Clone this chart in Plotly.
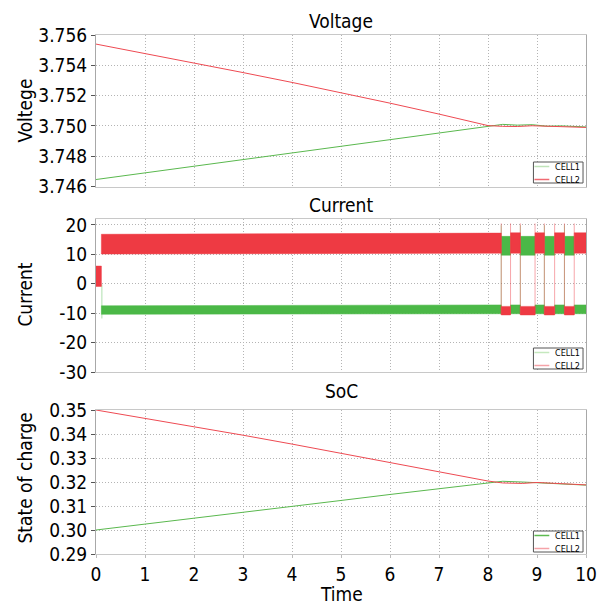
import plotly.graph_objects as go

# ---------------- data ----------------
time_ticks = [0, 1, 2, 3, 4, 5, 6, 7, 8, 9, 10]
current_ticks = [-30, -20, -10, 0, 10, 20]
current_tick_text = ["-30", "-20", "-10", "0", "10", "20"]
series_names = ["CELL1", "CELL2"]

v_time = [0, 1, 2, 3, 4, 5, 6, 7, 8, 8.3, 8.6, 8.9, 9.2, 9.5, 9.8, 10]
v_cell1 = [3.74646, 3.74690, 3.74734, 3.74777, 3.74821, 3.74864, 3.74908, 3.74952,
           3.74996, 3.75010, 3.75005, 3.75008, 3.74998, 3.75000, 3.74996, 3.74993]
v_cell2 = [3.75540, 3.75478, 3.75416, 3.75352, 3.75287, 3.75220, 3.75150, 3.75078,
           3.75002, 3.74997, 3.74996, 3.75001, 3.74998, 3.74997, 3.74993, 3.74990]

soc_time = [0, 1, 2, 3, 4, 5, 6, 7, 8, 8.3, 8.7, 9.0, 9.5, 10]
soc_cell1 = [0.3000, 0.3024, 0.3049, 0.3073, 0.3098, 0.3123, 0.3148, 0.3173,
             0.3197, 0.3203, 0.3200, 0.3197, 0.3191, 0.3187]
soc_cell2 = [0.3500, 0.3466, 0.3431, 0.3395, 0.3358, 0.3320, 0.3281, 0.3242,
             0.3204, 0.3196, 0.3194, 0.3198, 0.3192, 0.3188]

# current: PWM envelope bands (segment start/end time, low/high at start and end)
cur_c2_t0 = [0.00, 0.11, 8.27, 8.46, 8.66, 8.96, 9.15, 9.36, 9.56, 9.76]
cur_c2_t1 = [0.11, 8.27, 8.46, 8.66, 8.96, 9.15, 9.36, 9.56, 9.76, 10.00]
cur_c2_lo0 = [-0.9, 10.1, -10.6, 10.4, -10.6, 10.4, -10.6, 10.4, -10.6, 10.4]
cur_c2_lo1 = [-0.9, 10.4, -10.6, 10.4, -10.6, 10.4, -10.6, 10.4, -10.6, 10.4]
cur_c2_hi0 = [6.0, 16.8, -7.7, 17.3, -7.7, 17.3, -7.7, 17.3, -7.7, 17.3]
cur_c2_hi1 = [6.0, 17.2, -7.7, 17.3, -7.7, 17.3, -7.7, 17.3, -7.7, 17.3]

cur_c1_t0 = [0.11, 8.27, 8.46, 8.66, 8.96, 9.15, 9.36, 9.56, 9.76]
cur_c1_t1 = [8.27, 8.46, 8.66, 8.96, 9.15, 9.36, 9.56, 9.76, 10.00]
cur_c1_lo0 = [-10.4, 9.7, -10.2, 9.7, -10.2, 9.7, -10.2, 9.7, -10.2]
cur_c1_lo1 = [-10.2, 9.7, -10.2, 9.7, -10.2, 9.7, -10.2, 9.7, -10.2]
cur_c1_hi0 = [-7.5, 16.1, -7.2, 16.1, -7.2, 16.1, -7.2, 16.1, -7.2]
cur_c1_hi1 = [-7.2, 16.1, -7.2, 16.1, -7.2, 16.1, -7.2, 16.1, -7.2]

# switching edges (thin transition lines)
cur_c2_edge_t = [8.27, 8.46, 8.66, 8.96, 9.15, 9.36, 9.56, 9.76]
cur_c2_edge_lo = [-10.6, -10.6, -10.6, -10.6, -10.6, -10.6, -10.6, -10.6]
cur_c2_edge_hi = [20.5, 20.5, 20.5, 20.5, 20.5, 20.5, 20.5, 20.5]
cur_c1_edge_t = [0.12, 8.27, 8.66, 9.15, 9.56]
cur_c1_edge_lo = [-11.8, -10.2, -10.2, -10.2, -10.2]
cur_c1_edge_hi = [-0.2, 19.9, 19.9, 19.9, 19.9]

# ---------------- style / layout ----------------
FONT = "DejaVu Sans Condensed, DejaVu Sans, sans-serif"
RED = "#EE3A43"
GREEN = "#4BB847"
W, H = 609, 604
L, R, T, B = 96, 19, 35, 50
PH = H - T - B
PW = W - L - R


def fy(px):
    return (H - B - px) / PH


def fx(px):
    return (px - L) / PW


def polys(t0, t1, lo0, lo1, hi0, hi1):
    xs, ys = [], []
    for a, b, l0, l1, h0, h1 in zip(t0, t1, lo0, lo1, hi0, hi1):
        xs += [a, b, b, a, a, None]
        ys += [l0, l1, h1, h0, l0, None]
    return xs, ys


def vlines(ts, lo, hi):
    xs, ys = [], []
    for t, a, b in zip(ts, lo, hi):
        xs += [t, t, None]
        ys += [a, b, None]
    return xs, ys


fig = go.Figure()

# Voltage
fig.add_trace(go.Scatter(x=v_time, y=v_cell1, mode="lines", line=dict(color="#5AB84E", width=1),
                         xaxis="x", yaxis="y", name=series_names[0], showlegend=False))
fig.add_trace(go.Scatter(x=v_time, y=v_cell2, mode="lines", line=dict(color="#EE4A52", width=1),
                         xaxis="x", yaxis="y", name=series_names[1], showlegend=False))

# Current
gx, gy = polys(cur_c1_t0, cur_c1_t1, cur_c1_lo0, cur_c1_lo1, cur_c1_hi0, cur_c1_hi1)
fig.add_trace(go.Scatter(x=gx, y=gy, mode="lines", fill="toself", fillcolor=GREEN,
                         line=dict(color=GREEN, width=0.5), xaxis="x2", yaxis="y2", showlegend=False))
ex, ey = vlines(cur_c1_edge_t, cur_c1_edge_lo, cur_c1_edge_hi)
fig.add_trace(go.Scatter(x=ex, y=ey, mode="lines", line=dict(color="rgba(75,184,71,0.45)", width=1),
                         xaxis="x2", yaxis="y2", showlegend=False))
rx, ry = polys(cur_c2_t0, cur_c2_t1, cur_c2_lo0, cur_c2_lo1, cur_c2_hi0, cur_c2_hi1)
fig.add_trace(go.Scatter(x=rx, y=ry, mode="lines", fill="toself", fillcolor=RED,
                         line=dict(color=RED, width=0.5), xaxis="x2", yaxis="y2", showlegend=False))
ex, ey = vlines(cur_c2_edge_t, cur_c2_edge_lo, cur_c2_edge_hi)
fig.add_trace(go.Scatter(x=ex, y=ey, mode="lines", line=dict(color="rgba(238,58,67,0.45)", width=1),
                         xaxis="x2", yaxis="y2", showlegend=False))

# SoC
fig.add_trace(go.Scatter(x=soc_time, y=soc_cell1, mode="lines", line=dict(color="#5AB84E", width=1),
                         xaxis="x3", yaxis="y3", showlegend=False))
fig.add_trace(go.Scatter(x=soc_time, y=soc_cell2, mode="lines", line=dict(color="#EE4A52", width=1),
                         xaxis="x3", yaxis="y3", showlegend=False))

tickfont = dict(family=FONT, size=19, color="black")
grid = dict(showgrid=True, gridcolor="#b4b4b4", griddash="1px,2px", gridwidth=1, zeroline=False)

dom_top = [fy(186.5), 1.0]
dom_mid = [fy(372), fy(219)]
dom_bot = [0.0, fy(410)]

xcommon = dict(range=[0, 10], tickvals=time_ticks, showline=True, linecolor="#c8c8c8",
               linewidth=1, mirror=True, domain=[0, 1], **grid)
ycommon = dict(showline=True, linecolor="#a8a8a8", linewidth=1, mirror=True,
               ticks="outside", ticklen=4, tickcolor="#555", tickfont=tickfont, **grid)

fig.update_layout(
    width=W, height=H,
    margin=dict(l=L, r=R, t=T, b=B),
    paper_bgcolor="white", plot_bgcolor="white",
    font=dict(family=FONT, color="black"),
    showlegend=False,
    xaxis=dict(anchor="y", showticklabels=False, ticks="", matches="x3", **xcommon),
    xaxis2=dict(anchor="y2", showticklabels=False, ticks="", matches="x3", **xcommon),
    xaxis3=dict(anchor="y3", showticklabels=True, ticks="outside", ticklen=3, tickcolor="#bbb",
                tickfont=tickfont, **xcommon),
    yaxis=dict(anchor="x", domain=dom_top, range=[3.746, 3.756], tick0=3.746, dtick=0.002,
               tickformat=".3f", **ycommon),
    yaxis2=dict(anchor="x2", domain=dom_mid, range=[-30, 22], tickvals=current_ticks,
                ticktext=current_tick_text, **ycommon),
    yaxis3=dict(anchor="x3", domain=dom_bot, range=[0.29, 0.35], tick0=0.29, dtick=0.01,
                tickformat=".2f", **ycommon),
)

# hand-drawn compact legends (box, key lines, labels)
legend_specs = [  # bottom pixel of box, key colours
    (183, "#BFE3B8", "#F06A72"),
    (369, "#C5E8BE", "#F5A3A8"),
    (552, "#5DBB50", "#F5A3A8"),
]
for bottom, c1, c2 in legend_specs:
    top = bottom - 21
    fig.add_shape(type="rect", xref="paper", yref="paper",
                  x0=fx(537), x1=fx(587), y0=fy(bottom), y1=fy(top),
                  fillcolor="white", line=dict(color="#555", width=1), layer="above")
    for i, (name, col) in enumerate(zip(series_names, (c1, c2))):
        yc = top + 4.5 + i * 13
        fig.add_shape(type="line", xref="paper", yref="paper",
                      x0=fx(538), x1=fx(553), y0=fy(yc), y1=fy(yc),
                      line=dict(color=col, width=1.5), layer="above")
        fig.add_annotation(text=name, x=fx(557), y=fy(yc), xref="paper", yref="paper",
                           xanchor="left", yanchor="middle", showarrow=False,
                           font=dict(family=FONT, size=9, color="black"))

ann_font = dict(family=FONT, size=19, color="black")
for text, py in (("Voltage", 21), ("Current", 205), ("SoC", 391)):
    fig.add_annotation(text=text, x=0.5, y=fy(py), xref="paper", yref="paper",
                       xanchor="center", yanchor="middle", showarrow=False, font=ann_font)
for text, py in (("Voltege", 111), ("Current", 295), ("State of charge", 478)):
    fig.add_annotation(text=text, x=fx(24), y=fy(py), xref="paper", yref="paper",
                       xanchor="center", yanchor="middle", textangle=-90, showarrow=False,
                       font=ann_font)
fig.add_annotation(text="Time", x=0.5, y=fy(594), xref="paper", yref="paper",
                   xanchor="center", yanchor="middle", showarrow=False, font=ann_font)

fig.write_html("out.html")
